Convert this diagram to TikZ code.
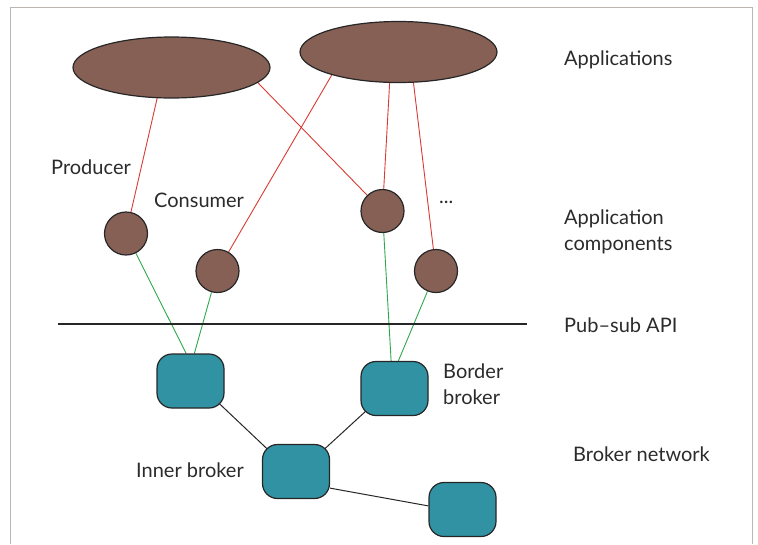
\documentclass[tikz,border=0pt]{standalone}
\usepackage{fontspec}
\setmainfont{Lato}
\usetikzlibrary{shapes.geometric,backgrounds}
\definecolor{appbrown}{HTML}{866055}
\definecolor{brokerteal}{HTML}{3092A3}
\definecolor{linkred}{HTML}{D93A33}
\definecolor{linkgreen}{HTML}{2EA84C}
\definecolor{framegray}{HTML}{BDB5AF}
\definecolor{txtgray}{HTML}{2B2B2B}
\begin{document}
\begin{tikzpicture}[x=1pt,y=-1pt,
  app/.style={ellipse, draw=black!85, line width=1.2pt, fill=appbrown,
    minimum width=197pt, minimum height=61pt, inner sep=0pt},
  comp/.style={circle, draw=black!85, line width=1.2pt, fill=appbrown,
    minimum size=43pt, inner sep=0pt},
  broker/.style={rectangle, rounded corners=15pt, draw=black!85, line width=1.2pt,
    fill=brokerteal, minimum width=67pt, minimum height=54pt, inner sep=0pt},
  lab/.style={text=txtgray, font=\fontsize{20}{25.5}\selectfont, inner sep=0pt,
    anchor=west, align=left},
  redlink/.style={draw=linkred, line width=0.9pt},
  greenlink/.style={draw=linkgreen, line width=0.9pt},
  netlink/.style={draw=black!85, line width=1pt},
  % corner-to-corner links: run into the rounded corners, hidden under the fill
  cornerlink/.style={netlink, shorten <=-9pt, shorten >=-9pt}
]
\useasboundingbox (0,0) rectangle (758,544);
% outer frame
\draw[framegray, line width=1pt] (10,544) -- (10,7) -- (752,7) -- (752,544);

% applications
\node[app] (e1) at (171.5,67.5) {};
\node[app] (e2) at (398.5,52) {};

% application components
\node[comp] (c1) at (126,233.5) {};
\node[comp] (c2) at (217.5,271) {};
\node[comp] (c3) at (382.5,211) {};
\node[comp] (c4) at (436,271) {};

% brokers
\node[broker] (b1) at (190.5,381) {};
\node[broker] (b2) at (394.5,388.5) {};
\node[broker] (b3) at (296,471.5) {};
\node[broker] (b4) at (462.5,509.5) {};

% pub-sub API boundary
\coordinate (apil) at (58,324);
\coordinate (apir) at (527,324);

\begin{scope}[on background layer]
  \draw[redlink] (e1.-115) -- (c1);
  \draw[redlink] (e1.-10.5) -- (c3);
  \draw[redlink] (e2.-161) -- (c2);
  \draw[redlink] (e2.-106) -- (c3);
  \draw[redlink] (e2.-64) -- (c4);
  \draw[greenlink] (c1) -- (b1.99.5);
  \draw[greenlink] (c2) -- (b1.82.6);
  \draw[greenlink] (c3) -- (b2.97.5);
  \draw[greenlink] (c4) -- (b2.82.5);
  \draw[cornerlink] (b1.south east) -- (b3.north west);
  \draw[cornerlink] (b3.north east) -- (b2.south west);
  \draw[netlink] (b3.-26) -- (b4.174);
\end{scope}
\draw[black!85, line width=2.4pt] (apil) -- (apir);

% labels
\node[lab] (lapps) at (564,60) {Applications};
\node[lab] (lcomp) at (564,232) {Application\\components};
\node[lab] (lapi) at (564,325) {Pub--sub API};
\node[lab] (lborder) at (443,384) {Border\\broker};
\node[lab] (lnet) at (573,454) {Broker network};
\node[lab] (linner) at (136,470) {Inner broker};
\node[lab] (lprod) at (51,167) {Producer};
\node[lab] (lcons) at (154,200) {Consumer};
\node[lab] (ldots) at (439,202) {...};
\end{tikzpicture}
\end{document}
